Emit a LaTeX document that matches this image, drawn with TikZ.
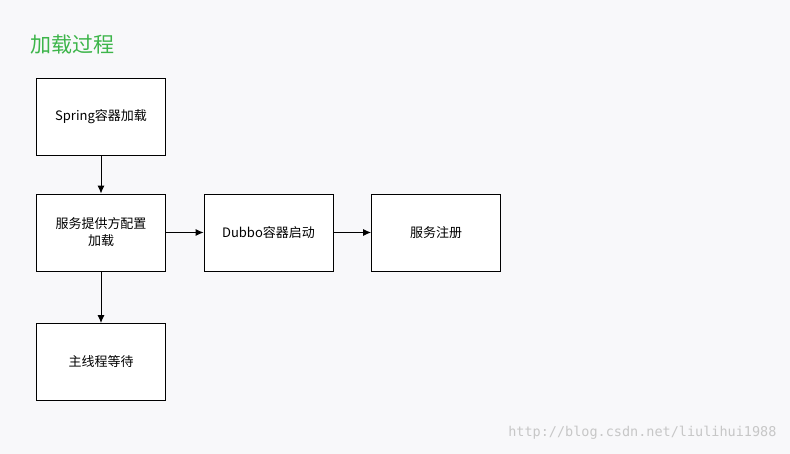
\documentclass[tikz,border=0pt]{standalone}
\usepackage{fontspec}
\setmainfont{Noto Sans CJK SC}
\newfontfamily\wmfont{DejaVu Sans Mono}
\definecolor{bgc}{HTML}{F8F8FA}
\definecolor{titlec}{HTML}{3DB54A}
\usetikzlibrary{arrows.meta}
\begin{document}
\begin{tikzpicture}[x=1pt,y=1pt,
  box/.style={draw=black,fill=white,line width=0.8pt,minimum width=129pt,minimum height=77pt,align=center,font=\fontsize{13}{17}\selectfont,inner sep=2pt},
  arr/.style={-{Latex[length=8pt,width=7pt]},line width=1pt}]
\fill[bgc] (0,0) rectangle (790,454);
\useasboundingbox (0,0) rectangle (790,454);
\node[anchor=west,text=titlec,font=\fontsize{21}{24}\selectfont] (title) at (27,409) {加载过程};
\node[box] (a) at (101,337) {Spring容器加载};
\node[box] (b) at (101,221.5) {服务提供方配置\\加载};
\node[box] (c) at (268.5,221.5) {Dubbo容器启动};
\node[box] (d) at (436,221.5) {服务注册};
\node[box] (e) at (101,92) {主线程等待};
\draw[arr] (a) -- (b);
\draw[arr] (b) -- (c);
\draw[arr] (c) -- (d);
\draw[arr] (b) -- (e);
\node[anchor=east,text=black!22,font=\wmfont\fontsize{13.5}{16}\selectfont] (wm) at (780,21) {http://blog.csdn.net/liulihui1988};
\end{tikzpicture}
\end{document}
